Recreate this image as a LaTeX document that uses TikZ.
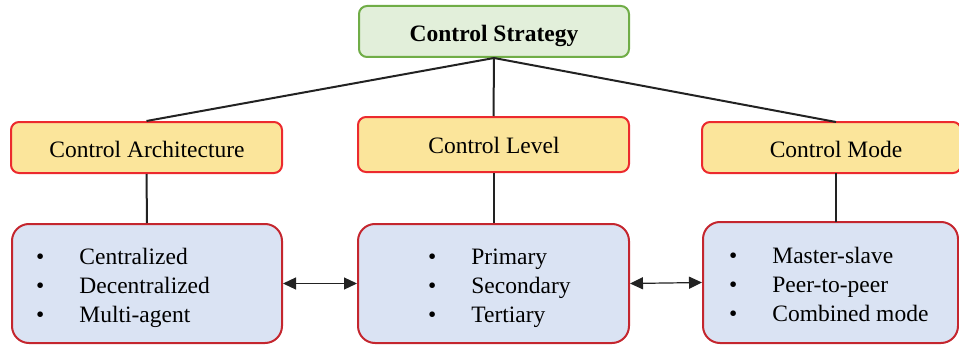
\documentclass[tikz,border=0pt]{standalone}
\usepackage{fontspec}
\setmainfont{Liberation Serif}
\usetikzlibrary{arrows.meta}
\definecolor{gfill}{HTML}{E2EFDA}
\definecolor{gdraw}{HTML}{70AD47}
\definecolor{yfill}{HTML}{FBE59B}
\definecolor{ydraw}{HTML}{EC2A2E}
\definecolor{bfill}{HTML}{DAE3F3}
\definecolor{bdraw}{HTML}{C4262E}
\definecolor{lnk}{HTML}{222222}
\tikzset{
  topbox/.style={draw=gdraw, fill=gfill, line width=2pt, rounded corners=8pt, inner sep=0pt},
  catbox/.style={draw=ydraw, fill=yfill, line width=2pt, rounded corners=8pt, inner sep=0pt},
  listbox/.style={draw=bdraw, fill=bfill, line width=2pt, rounded corners=17pt, inner sep=0pt},
  lbl/.style={anchor=base, inner sep=0pt, font=\fontsize{23.5}{28}\selectfont},
  listtxt/.style={anchor=north west, inner sep=0pt, font=\fontsize{23.5}{29}\selectfont},
  link/.style={draw=lnk, line width=2pt},
  biarrow/.style={draw=lnk, line width=1.2pt, {Triangle[length=13pt,width=12pt]}-{Triangle[length=13pt,width=12pt]}}
}
\newcommand{\blist}[3]{\begin{tabular}{@{}l@{\hspace{35pt}}l@{}}\textbullet & #1\\ \textbullet & #2\\ \textbullet & #3\end{tabular}}
\begin{document}
\begin{tikzpicture}[x=1pt,y=-1pt]
\useasboundingbox (0,0) rectangle (959,345);
% boxes
\node[topbox, minimum width=270pt, minimum height=51pt] (cs) at (494,31.5) {};
\node[catbox, minimum width=271pt, minimum height=51pt] (ca) at (146.5,147.5) {};
\node[catbox, minimum width=271pt, minimum height=55pt] (cl) at (493.5,144.5) {};
\node[catbox, minimum width=259pt, minimum height=51pt] (cm) at (831.5,147.5) {};
\node[listbox, minimum width=270pt, minimum height=119pt] (la) at (147,283.5) {};
\node[listbox, minimum width=271pt, minimum height=119pt] (ll) at (493.5,283.5) {};
\node[listbox, minimum width=255pt, minimum height=121pt] (lm) at (830.5,282.5) {};
\coordinate (cmtop) at (836,122);
\coordinate (cmbot) at (836,173);
\coordinate (lmtop) at (836,222);
% texts
\node[lbl, font=\fontsize{23.5}{28}\selectfont\bfseries] (tcs) at (494,42) {Control Strategy};
\node[lbl] (tca) at (147,157) {Control Architecture};
\node[lbl] (tcl) at (494,153) {Control Level};
\node[lbl] (tcm) at (836,157) {Control Mode};
\node[listtxt] (xa) at (36,244) {\blist{Centralized}{Decentralized}{Multi-agent}};
\node[listtxt] (xl) at (428,244) {\blist{Primary}{Secondary}{Tertiary}};
\node[listtxt] (xm) at (729,243) {\blist{Master-slave}{Peer-to-peer}{Combined mode}};
% connectors
\draw[link] (cs.south) -- (ca.north);
\draw[link] (cs.south) -- (cl.north);
\draw[link] (cs.south) -- (cmtop);
\draw[link] (ca.south) -- (la.north);
\draw[link] (cl.south) -- (ll.north);
\draw[link] (cmbot) -- (lmtop);
\draw[biarrow] (la.east) -- (ll.west);
\draw[biarrow] (ll.east) -- (lm.west);
\end{tikzpicture}
\end{document}
